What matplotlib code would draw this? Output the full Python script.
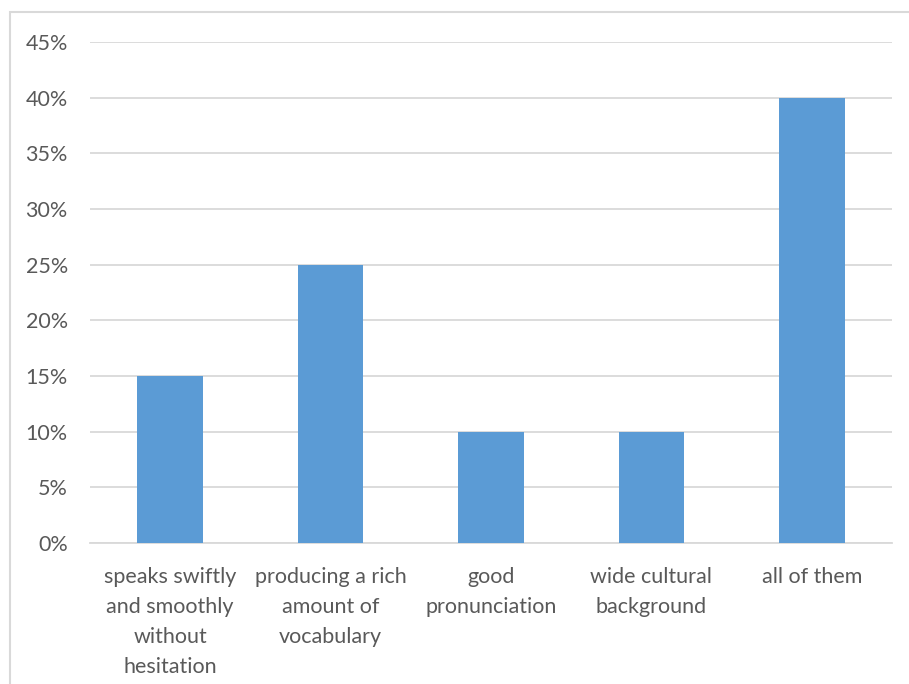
import matplotlib.pyplot as plt
from matplotlib.patches import Rectangle
from matplotlib.ticker import PercentFormatter

# survey answers: share of respondents per quality
categories = ["speaks swiftly\nand smoothly\nwithout\nhesitation",
              "producing a rich\namount of\nvocabulary",
              "good\npronunciation",
              "wide cultural\nbackground",
              "all of them"]
shares = [15, 25, 10, 10, 40]
yticks = [0, 5, 10, 15, 20, 25, 30, 35, 40, 45]

plt.rcParams['font.family'] = ['Lato', 'DejaVu Sans']
text_col = '#595959'
grid_col = '#D9D9D9'

fig = plt.figure(figsize=(9.09, 6.84), dpi=100)
ax = fig.add_axes([90/909, 141/684, 802/909, 501/684])

x = range(len(categories))
ax.bar(x, shares, width=0.41, color='#5B9BD5', zorder=3)

ax.set_xlim(-0.5, len(categories) - 0.5)
ax.set_ylim(0, 45)
ax.set_yticks(yticks)
ax.yaxis.set_major_formatter(PercentFormatter(decimals=0))
ax.set_xticks(list(x))
ax.set_xticklabels(categories, linespacing=1.63)
ax.grid(axis='y', color=grid_col, linewidth=1.3, zorder=0)
ax.set_axisbelow(True)

for s in ['top', 'right', 'left']:
    ax.spines[s].set_visible(False)
ax.spines['bottom'].set_color(grid_col)
ax.spines['bottom'].set_linewidth(1.3)

ax.tick_params(axis='y', length=0, pad=16, labelsize=15.5, labelcolor=text_col)
ax.tick_params(axis='x', length=0, pad=17, labelsize=15.5, labelcolor=text_col)

# chart frame (open at the bottom and right)
fig.patches.append(Rectangle((10/909, -0.05), 1.0, 1.05 - 12/684,
                             transform=fig.transFigure, fill=False,
                             edgecolor=grid_col, linewidth=1.5))

fig.savefig('out.png', dpi=100, facecolor='white')
